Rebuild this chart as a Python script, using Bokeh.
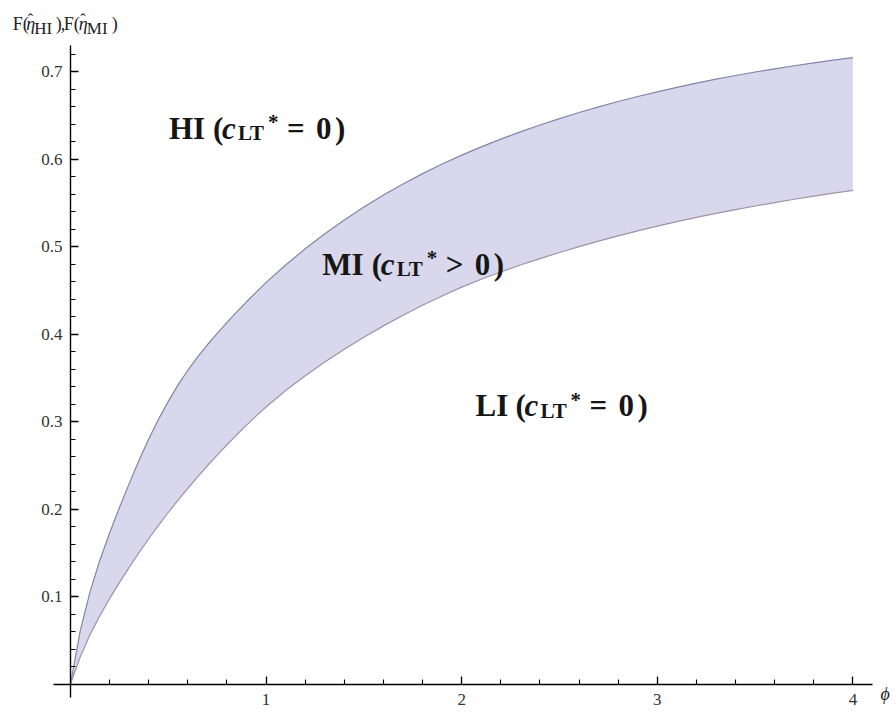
from bokeh.plotting import figure
from bokeh.models import FixedTicker, Label, Range1d
from bokeh.embed import file_html
from bokeh.resources import INLINE

# ---- data ----
phi = [0, 0.05, 0.1, 0.15, 0.2, 0.25, 0.3, 0.35, 0.4, 0.45, 0.5, 0.55, 0.6, 0.65,
       0.7, 0.75, 0.8, 0.85, 0.9, 0.95, 1.0,
       1.1, 1.2, 1.3, 1.4, 1.5, 1.6, 1.7, 1.8, 1.9, 2.0,
       2.1, 2.2, 2.3, 2.4, 2.5, 2.6, 2.7, 2.8, 2.9, 3.0,
       3.1, 3.2, 3.3, 3.4, 3.5, 3.6, 3.7, 3.8, 3.9, 4.0]
F_HI = [0, 0.061, 0.1055, 0.1415, 0.1725, 0.2015, 0.229, 0.2555, 0.280, 0.3025,
        0.323, 0.3418, 0.3586, 0.3738, 0.3877, 0.4006, 0.4133, 0.4253, 0.4368,
        0.4479, 0.459,
        0.4789, 0.4974, 0.5145, 0.5304, 0.5451, 0.5588, 0.5715, 0.5833, 0.5942, 0.6044,
        0.6138, 0.6227, 0.6310, 0.6388, 0.6462, 0.6531, 0.6596, 0.6657, 0.6714, 0.6768,
        0.6819, 0.6867, 0.6912, 0.6954, 0.6994, 0.7031, 0.7066, 0.7099, 0.7130, 0.7159]
F_MI = [0, 0.031, 0.0565, 0.078, 0.0975, 0.1158, 0.1333, 0.150, 0.166, 0.1813,
        0.196, 0.2101, 0.2237, 0.2368, 0.2494, 0.2616, 0.2734, 0.2848, 0.2958,
        0.3064, 0.3166,
        0.3354, 0.3523, 0.3679, 0.3826, 0.3964, 0.4093, 0.4214, 0.4328, 0.4435, 0.4536,
        0.4625, 0.4709, 0.4788, 0.4862, 0.4932, 0.4999, 0.5062, 0.5122, 0.5179, 0.5233,
        0.5284, 0.5333, 0.5379, 0.5422, 0.5463, 0.5502, 0.5540, 0.5576, 0.5610, 0.5642]

x_major = [1, 2, 3, 4]
x_minor = [round(0.2 * k, 1) for k in range(1, 20) if k % 5 != 0]
y_major = [0.1, 0.2, 0.3, 0.4, 0.5, 0.6, 0.7]
y_minor = [round(0.02 * k, 2) for k in range(1, 37) if k % 5 != 0]

W, H = 896, 713
X0, KX = 70.0, 195.6      # pixel of phi=0, pixels per unit
Y0, KY = 683.5, 875.0     # pixel of F=0, pixels per unit
p = figure(width=W, height=H, output_backend="svg", toolbar_location=None, tools="",
           x_range=Range1d(-X0 / KX, (W - X0) / KX),
           y_range=Range1d(-(H - Y0) / KY, Y0 / KY),
           min_border=0, min_border_left=0, min_border_right=0,
           min_border_top=0, min_border_bottom=0)
p.outline_line_color = None
p.grid.visible = False
p.background_fill_color = "white"

# band and curves
p.varea(x=phi, y1=F_MI, y2=F_HI, fill_color="#d8d7eb", fill_alpha=1.0)
p.line(phi, F_HI, line_color="#8682ac", line_width=1.2)
p.line(phi, F_MI, line_color="#a68ea6", line_width=1.2)

# axes crossing at origin
for ax in p.xaxis:
    ax.fixed_location = 0
    ax.bounds = (-0.087, 4.1)
    ax.ticker = FixedTicker(ticks=x_major, minor_ticks=x_minor)
    ax.major_tick_in = 8
    ax.major_tick_out = 0
    ax.minor_tick_in = 5
    ax.minor_tick_out = 0
    ax.major_label_standoff = 10
for ax in p.yaxis:
    ax.fixed_location = 0
    ax.bounds = (-0.015, 0.73)
    ax.ticker = FixedTicker(ticks=y_major, minor_ticks=y_minor)
    ax.major_tick_in = 8
    ax.major_tick_out = 0
    ax.minor_tick_in = 5
    ax.minor_tick_out = 0
    ax.major_label_standoff = 8
for ax in list(p.xaxis) + list(p.yaxis):
    ax.axis_line_color = "black"
    ax.axis_line_width = 1.4
    ax.major_tick_line_color = "black"
    ax.minor_tick_line_color = "black"
    ax.major_tick_line_width = 1.3
    ax.minor_tick_line_width = 1.1
    ax.major_label_text_font = "Liberation Serif"
    ax.major_label_text_font_size = "17px"
    ax.major_label_text_color = "#333333"


def rich(x, y, pieces, color="#161616"):
    for text, dx, dy, size, style in pieces:
        p.add_layout(Label(x=x, y=y, x_offset=dx, y_offset=dy, text=text,
                           text_font="Liberation Serif", text_font_size=f"{size}px",
                           text_font_style=style, text_color=color,
                           text_baseline="alphabetic", text_align="left"))


def region_label(x, y, word, w, op):
    S, s = 31, 21
    rich(x, y, [
        (word, 0, 0, S, "bold"),
        ("(", w + 8, 0, S, "bold"),
        ("c", w + 17, 0, S, "bold italic"),
        ("LT", w + 33, -5, s, "bold"),
        ("*", w + 63, 6, s, "bold"),
        (op, w + 82, 0, S, "bold"),
        ("0", w + 111, 0, S, "bold"),
        (")", w + 130, 0, S, "bold"),
    ])


region_label(0.503, 0.635, "HI", 36, "=")
region_label(1.287, 0.480, "MI", 41.5, ">")
region_label(2.071, 0.318, "LI", 32, "=")

# y-axis title (top left)
rich(-0.295, 0.7545, [
    ("F(", 0, 0, 18, "normal"),
    ("η", 13.5, 0, 18, "italic"),
    ("ˆ", 15, 4, 16, "normal"),
    ("HI", 21.5, -5, 17, "normal"),
    (")", 43, 0, 18, "normal"),
    (",", 48, 0, 18, "normal"),
    ("F(", 51, 0, 18, "normal"),
    ("η", 66, 0, 18, "italic"),
    ("ˆ", 67.5, 4, 16, "normal"),
    ("MI", 74, -5, 17, "normal"),
    (")", 99, 0, 18, "normal"),
], color="#222222")

# x-axis title
rich(4.156, -0.0109, [("ϕ", -3, 0, 18, "italic")], color="#222222")

open("out.html", "w").write(file_html(p, INLINE))
